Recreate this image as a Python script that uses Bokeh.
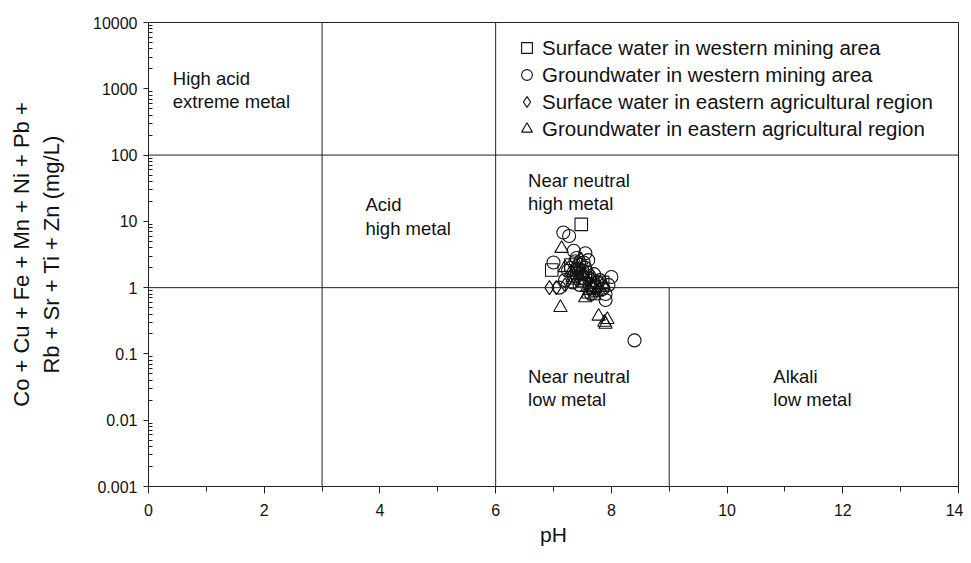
from bokeh.plotting import figure
from bokeh.models import FixedTicker, CustomJSTickFormatter, Span, Legend, LegendItem
from bokeh.core.properties import value
from bokeh.embed import file_html
from bokeh.resources import INLINE

# Data (pH, sum of metals mg/L)
sw_west_ph = [7.48, 6.97, 7.30, 7.55, 7.70, 7.85, 7.40]
sw_west_val = [9.0, 1.85, 2.2, 1.4, 1.0, 1.2, 1.7]

gw_west_ph = [7.17, 7.27, 7.00, 7.10, 7.20, 7.30, 7.35, 7.40, 7.45, 7.50, 7.55, 7.60, 7.62, 7.70,
              7.75, 7.80, 7.85, 7.90, 7.90, 7.95, 8.00, 7.45, 7.35, 7.65, 8.40, 7.25, 7.55, 7.70,
              7.38, 7.48, 7.58, 7.68, 7.42, 7.52, 7.62, 7.33]
gw_west_val = [6.8, 6.0, 2.4, 1.0, 1.3, 2.0, 3.6, 2.8, 2.2, 1.8, 3.3, 2.6, 1.5, 1.6,
               1.2, 1.3, 0.95, 0.8, 0.65, 1.1, 1.45, 1.1, 1.5, 0.8, 0.16, 1.8, 2.0, 1.05,
               2.5, 1.4, 1.7, 1.3, 1.9, 2.4, 1.1, 1.2]

sw_east_ph = [6.93, 7.05, 7.20, 7.40, 7.50, 7.60, 7.75, 7.90, 7.30, 7.65]
sw_east_val = [1.0, 1.0, 1.1, 1.3, 1.6, 1.2, 0.9, 1.0, 1.5, 1.4]

gw_east_ph = [7.14, 7.12, 7.78, 7.88, 7.93, 7.90, 7.20, 7.30, 7.40, 7.45, 7.50, 7.55, 7.60, 7.62,
              7.70, 7.75, 7.80, 7.85, 7.35, 7.65, 7.42, 7.52, 7.58, 7.68, 7.72, 7.48]
gw_east_val = [3.9, 0.5, 0.37, 0.30, 0.33, 0.28, 2.0, 1.7, 2.3, 1.5, 1.2, 0.7, 0.8, 0.9,
               0.75, 0.85, 1.0, 1.1, 1.3, 1.1, 1.9, 1.6, 1.0, 0.95, 1.2, 2.6]

series_labels = ["Surface water in western mining area",
                 "Groundwater in western mining area",
                 "Surface water in eastern agricultural region",
                 "Groundwater in eastern agricultural region"]

x_ticks = [0, 2, 4, 6, 8, 10, 12, 14]
y_ticks = [0.001, 0.01, 0.1, 1, 10, 100, 1000, 10000]

FONT = "Liberation Sans"

p = figure(width=963, height=555, x_range=(0, 14), y_range=(0.001, 10000),
           y_axis_type="log", output_backend="svg", toolbar_location=None,
           min_border_left=148, min_border_right=5, min_border_top=22, min_border_bottom=69)
p.xgrid.visible = False
p.ygrid.visible = False
p.outline_line_color = "#222222"
p.outline_line_width = 1
p.background_fill_color = "white"
p.border_fill_color = "white"

# Axes
p.xaxis.ticker = FixedTicker(ticks=x_ticks, minor_ticks=list(range(0, 15)))
p.xaxis.axis_label = "pH"
minor_y = [m * 10.0 ** e for e in range(-3, 4) for m in range(2, 10)]
p.yaxis.ticker = FixedTicker(ticks=y_ticks, minor_ticks=minor_y)
p.yaxis.formatter = CustomJSTickFormatter(code="return tick >= 1 ? tick.toFixed(0) : String(tick);")
p.yaxis.axis_label = "Co + Cu + Fe + Mn + Ni + Pb +\nRb + Sr + Ti + Zn (mg/L)"

for ax in (p.xaxis[0], p.yaxis[0]):
    ax.axis_line_color = "#222222"
    ax.major_tick_line_color = "#222222"
    ax.minor_tick_line_color = "#222222"
    ax.major_label_text_font = FONT
    ax.major_label_text_font_size = "16px"
    ax.major_label_text_color = "#111111"
    ax.axis_label_text_font = FONT
    ax.axis_label_text_font_size = "21px"
    ax.axis_label_text_font_style = "normal"
    ax.axis_label_text_color = "#111111"

p.yaxis.axis_label_text_font_size = "22px"

p.xaxis.major_tick_out = 7
p.xaxis.major_tick_in = 0
p.xaxis.minor_tick_out = 5
p.xaxis.minor_tick_in = 0
p.xaxis.major_label_standoff = 10
p.xaxis.axis_label_standoff = 4

p.yaxis.major_tick_out = 5
p.yaxis.major_tick_in = 0
p.yaxis.minor_tick_out = 0
p.yaxis.minor_tick_in = 4
p.yaxis.major_label_standoff = 6
p.yaxis.axis_label_standoff = 26

# Field divisions
line_kw = dict(line_color="#222222", line_width=1)
p.add_layout(Span(location=3, dimension="height", **line_kw))
p.add_layout(Span(location=6, dimension="height", **line_kw))
p.add_layout(Span(location=100, dimension="width", **line_kw))
p.add_layout(Span(location=1, dimension="width", **line_kw))
p.segment(x0=[9], y0=[0.001], x1=[9], y1=[1], **line_kw)

# Field labels
lbl_x = [0.42, 0.42, 3.75, 3.75, 6.56, 6.56, 6.56, 6.56, 10.8, 10.8]
lbl_y = [1430, 640, 18, 7.8, 41, 18.6, 0.046, 0.0206, 0.046, 0.0206]
lbl_t = ["High acid", "extreme metal", "Acid", "high metal", "Near neutral", "high metal",
         "Near neutral", "low metal", "Alkali", "low metal"]
p.text(x=lbl_x, y=lbl_y, text=lbl_t, text_font=value(FONT), text_font_size="18.5px",
       text_baseline="middle", text_align="left", text_color="#111111")

# Data points
r1 = p.scatter(sw_west_ph, sw_west_val, marker="square", size=12.5, fill_alpha=0,
               line_color="#111111", line_width=1.1)
r2 = p.scatter(gw_west_ph, gw_west_val, marker="circle", size=13, fill_alpha=0,
               line_color="#111111", line_width=1.1)
r3 = p.scatter(sw_east_ph, sw_east_val, marker="diamond", size=14, fill_alpha=0,
               line_color="#111111", line_width=1.1)
r4 = p.scatter(gw_east_ph, gw_east_val, marker="triangle", size=13.5, fill_alpha=0,
               line_color="#111111", line_width=1.1)

legend = Legend(items=[LegendItem(label=series_labels[0], renderers=[r1]),
                       LegendItem(label=series_labels[1], renderers=[r2]),
                       LegendItem(label=series_labels[2], renderers=[r3]),
                       LegendItem(label=series_labels[3], renderers=[r4])],
                location=(360, 339), border_line_alpha=0, background_fill_alpha=0,
                label_text_font=FONT, label_text_font_size="20.5px", label_text_color="#111111",
                label_height=27, glyph_height=27, glyph_width=27, spacing=0, padding=5,
                label_standoff=2, margin=0)
p.add_layout(legend)

open("out.html", "w").write(file_html(p, INLINE))
